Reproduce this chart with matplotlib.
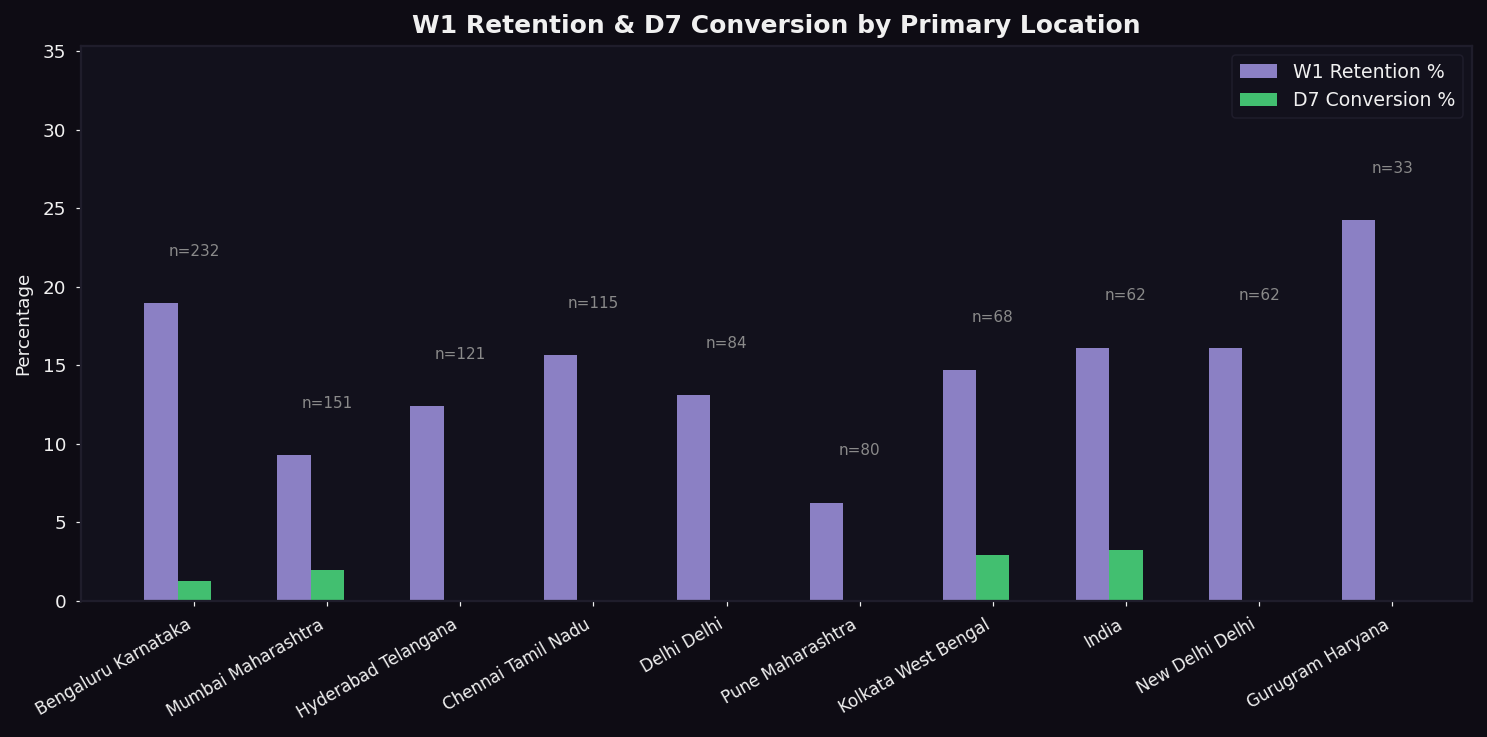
import numpy as np
import matplotlib
matplotlib.use("Agg")
import matplotlib.pyplot as plt

plt.rcParams["font.family"] = ["DejaVu Sans"]

locations = ["Bengaluru Karnataka", "Mumbai Maharashtra", "Hyderabad Telangana",
             "Chennai Tamil Nadu", "Delhi Delhi", "Pune Maharashtra",
             "Kolkata West Bengal", "India", "New Delhi Delhi", "Gurugram Haryana"]
n_users = [232, 151, 121, 115, 84, 80, 68, 62, 62, 33]
w1_retention = [18.97, 9.27, 12.40, 15.65, 13.10, 6.25, 14.71, 16.13, 16.13, 24.24]
d7_conversion = [1.29, 1.99, 0.0, 0.0, 0.0, 0.0, 2.94, 3.23, 0.0, 0.0]

BG = "#0e0c14"
AX_BG = "#12111c"
GRID = "#1f1d2b"
TXT = "#f0f0f0"

DPI = 110
fig = plt.figure(figsize=(1487 / DPI, 737 / DPI), dpi=DPI, facecolor=BG)
ax = fig.add_axes([81 / 1487, 1 - 601 / 737, (1472 - 81) / 1487, (601 - 45.5) / 737])
ax.set_facecolor(AX_BG)

x = np.arange(len(locations))
width = 0.25
ax.bar(x - width, w1_retention, width, color="#8b80c4", label="W1 Retention %")
ax.bar(x, d7_conversion, width, color="#42bf70", label="D7 Conversion %")

# sample size above each group
for i, n in enumerate(n_users):
    ax.text(x[i], w1_retention[i] + 3.3, f"n={n}", ha="center", va="center",
            color="#8a8a8a", fontsize=10)

ax.set_ylim(0, 35.35)
ax.set_xticks(x)
ax.set_xticklabels(locations, rotation=30, ha="right", fontsize=11, color=TXT)
ax.tick_params(axis="y", labelsize=12, colors=TXT, pad=6)
ax.tick_params(axis="x", colors=TXT, pad=6)
ax.set_ylabel("Percentage", color=TXT, fontsize=12, labelpad=7)
ax.set_title("W1 Retention & D7 Conversion by Primary Location", color=TXT,
             fontsize=16.4, fontweight="bold", pad=8)
for s in ax.spines.values():
    s.set_color(GRID)
    s.set_linewidth(1.5)

leg = ax.legend(loc="upper right", fontsize=12.4, facecolor=AX_BG, edgecolor=GRID,
                labelcolor=TXT, framealpha=1)

fig.savefig("out.png", dpi=DPI, facecolor=BG)
